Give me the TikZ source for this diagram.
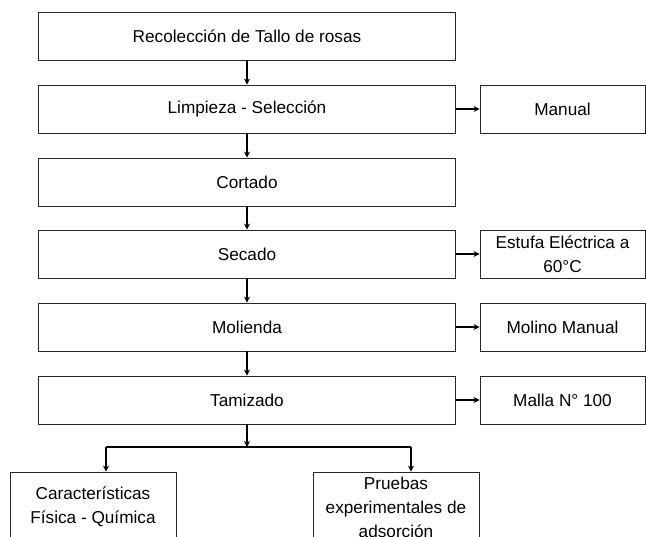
\documentclass[tikz,border=0pt]{standalone}
\usepackage{fontspec}
\setmainfont{Liberation Sans}
\usetikzlibrary{arrows.meta}
\begin{document}
\begin{tikzpicture}[x=1pt,y=-1pt,
  box/.style={draw=black!85,line width=0.9pt,inner sep=0pt,align=center,font=\fontsize{17.2}{24}\selectfont},
  mainbox/.style={box,minimum width=417,minimum height=48},
  sidebox/.style={box,minimum width=165,minimum height=48},
  botbox/.style={box,minimum width=166,minimum height=70},
  arr/.style={line width=2pt,-{Stealth[length=6pt,width=6pt]}}]
\clip (0,0) rectangle (646,537);
\useasboundingbox (0,0) rectangle (646,537);
\node[mainbox] (rec) at (247,36) {Recolección de Tallo de rosas};
\node[mainbox] (lim) at (247,109) {Limpieza - Selección};
\node[mainbox] (cor) at (247,182) {Cortado};
\node[mainbox] (sec) at (247,254) {Secado};
\node[mainbox] (mol) at (247,327) {Molienda};
\node[mainbox] (tam) at (247,400) {Tamizado};
\node[sidebox] (man) at (562.5,109) {Manual};
\node[sidebox] (est) at (562.5,254) {Estufa Eléctrica a\\60°C};
\node[sidebox] (mom) at (562.5,327) {Molino Manual};
\node[sidebox] (mal) at (562.5,400) {Malla N° 100};
\node[botbox] (car) at (93,507) {Características\\Física - Química};
\node[botbox] (pru) at (396,507) {Pruebas\\experimentales de\\adsorción};
\draw[arr] (rec) -- (lim);
\draw[arr] (lim) -- (cor);
\draw[arr] (cor) -- (sec);
\draw[arr] (sec) -- (mol);
\draw[arr] (mol) -- (tam);
\draw[arr] (lim) -- (man);
\draw[arr] (sec) -- (est);
\draw[arr] (mol) -- (mom);
\draw[arr] (tam) -- (mal);
\coordinate (br) at (247,447);
\coordinate (bl) at (106,447);
\coordinate (bri) at (411,447);
\draw[arr] (tam.south) -- (br);
\draw[line width=2pt] (bl) -- (bri);
\draw[arr] (bl) -- (bl |- car.north);
\draw[arr] (bri) -- (bri |- pru.north);
\end{tikzpicture}
\end{document}
